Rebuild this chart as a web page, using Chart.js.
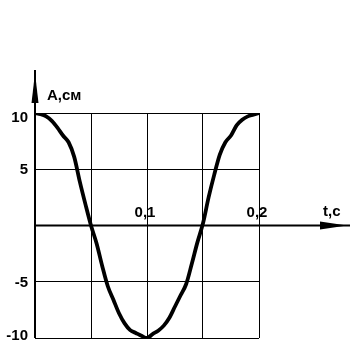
<!DOCTYPE html>
<html>
<head>
<meta charset="utf-8">
<script src="https://cdn.jsdelivr.net/npm/chart.js@4"></script>
<style>
html,body{margin:0;padding:0;background:#fff;}
canvas{display:block;}
</style>
</head>
<body>
<canvas id="c" width="360" height="358"></canvas>
<script>
// time, s
const tValues = [0, 0.005, 0.01, 0.015, 0.02, 0.025, 0.03, 0.035, 0.04, 0.045, 0.05,
                 0.055, 0.06, 0.065, 0.07, 0.075, 0.08, 0.085, 0.09, 0.095, 0.10,
                 0.105, 0.11, 0.115, 0.12, 0.125, 0.13, 0.135, 0.14, 0.145, 0.15,
                 0.155, 0.16, 0.165, 0.17, 0.175, 0.18, 0.185, 0.19, 0.195, 0.20];
// amplitude A, cm
const aValues = [10, 9.9, 9.7, 9.3, 8.7, 8.0, 7.4, 6.1, 3.9, 1.9, 0,
                 -1.6, -3.6, -5.4, -6.6, -7.8, -8.7, -9.3, -9.55, -9.8, -10,
                 -9.65, -9.35, -8.9, -8.2, -7.2, -6.2, -5.2, -3.4, -1.5, 0.2,
                 2.5, 4.5, 6.3, 7.4, 8.0, 8.9, 9.4, 9.7, 9.85, 10];
const yTickValues = [10, 5, -5, -10];
const yTickLabels = ['10', '5', '-5', '-10'];
const xTickValues = [0.1, 0.2];
const xTickLabels = ['0,1', '0,2'];
const xGridValues = [0.05, 0.1, 0.15, 0.2];
const yAxisTitle = 'A,см';
const xAxisTitle = 't,c';

const FONT = 'bold 15px "Liberation Sans", Arial, sans-serif';

const axesPlugin = {
  id: 'axesPlugin',
  afterDatasetsDraw(chart) {
    const ctx = chart.ctx;
    const xs = chart.scales.x, ys = chart.scales.y;
    const x0 = xs.getPixelForValue(0);
    const y0 = ys.getPixelForValue(0);
    ctx.save();
    ctx.strokeStyle = '#000';
    ctx.fillStyle = '#000';
    ctx.lineWidth = 2;
    // x axis
    ctx.beginPath();
    ctx.moveTo(x0, y0);
    ctx.lineTo(350, y0);
    ctx.stroke();
    ctx.beginPath();
    ctx.moveTo(347, y0);
    ctx.lineTo(320, y0 - 4);
    ctx.lineTo(320, y0 + 4);
    ctx.closePath();
    ctx.fill();
    // y axis
    ctx.beginPath();
    ctx.moveTo(x0, ys.getPixelForValue(-10));
    ctx.lineTo(x0, 70);
    ctx.stroke();
    ctx.beginPath();
    ctx.moveTo(x0, 73);
    ctx.lineTo(x0 - 3.5, 103);
    ctx.lineTo(x0 + 3.5, 103);
    ctx.closePath();
    ctx.fill();
    // labels
    ctx.font = FONT;
    ctx.textAlign = 'right';
    ctx.textBaseline = 'middle';
    yTickValues.forEach((v, i) => {
      const yy = ys.getPixelForValue(v) + (v === 10 ? 5 : (v === -10 ? -2 : 1));
      ctx.fillText(yTickLabels[i], x0 - 7, yy);
    });
    ctx.textAlign = 'center';
    ctx.textBaseline = 'alphabetic';
    xTickValues.forEach((v, i) => {
      ctx.fillText(xTickLabels[i], xs.getPixelForValue(v) - 2, y0 - 9);
    });
    ctx.textAlign = 'left';
    ctx.fillText(yAxisTitle, x0 + 12, 100);
    ctx.fillText(xAxisTitle, 323, y0 - 10);
    ctx.restore();
  }
};

new Chart(document.getElementById('c'), {
  type: 'line',
  data: {
    datasets: [{
      data: tValues.map((t, i) => ({x: t, y: aValues[i]})),
      borderColor: '#000',
      borderWidth: 3.8,
      pointRadius: 0,
      fill: false,
      cubicInterpolationMode: 'monotone'
    }]
  },
  options: {
    responsive: false,
    animation: false,
    devicePixelRatio: 1,
    layout: {padding: {left: 35, right: 101, top: 113, bottom: 20}},
    plugins: {legend: {display: false}, tooltip: {enabled: false}},
    scales: {
      x: {
        type: 'linear', min: 0, max: 0.2,
        border: {display: false},
        ticks: {display: false},
        afterBuildTicks(s) { s.ticks = xGridValues.map(v => ({value: v})); },
        grid: {color: '#000', lineWidth: 1, drawTicks: false}
      },
      y: {
        type: 'linear', min: -10, max: 10,
        border: {display: false},
        ticks: {display: false},
        afterBuildTicks(s) { s.ticks = yTickValues.map(v => ({value: v})); },
        grid: {color: '#000', lineWidth: 1, drawTicks: false}
      }
    }
  },
  plugins: [axesPlugin]
});
</script>
</body>
</html>
